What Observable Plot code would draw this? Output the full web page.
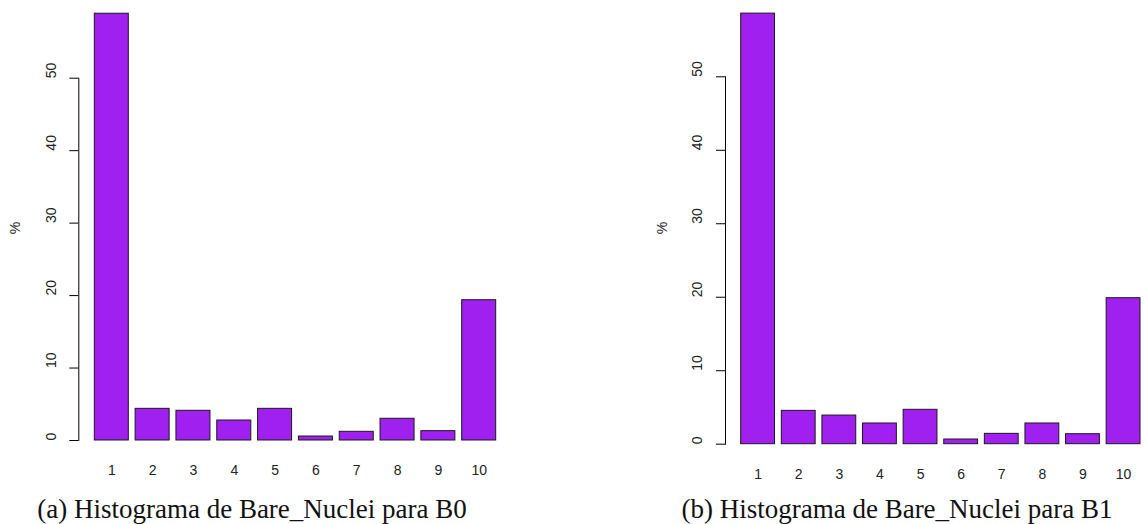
<!DOCTYPE html>
<html>
<head>
<meta charset="utf-8">
<script src="https://cdn.jsdelivr.net/npm/d3@7"></script>
<script src="https://cdn.jsdelivr.net/npm/@observablehq/plot@0.6"></script>
<style>
  html, body { margin: 0; padding: 0; background: #fff; }
  #wrap { position: relative; width: 1145px; height: 524px; overflow: hidden; }
  .panel { position: absolute; top: 0; }
  .ylab { position: absolute; font: 14px "Liberation Sans", Arial, sans-serif; color: #222;
          transform: translate(-50%, -50%) rotate(-90deg); white-space: nowrap; }
  .cap { position: absolute; font: 27px "Liberation Serif", "DejaVu Serif", serif; color: #111;
         transform: translateX(-50%); white-space: nowrap; line-height: 1; }
</style>
</head>
<body>
<div id="wrap"></div>
<script>
// Data
const categories = ["1","2","3","4","5","6","7","8","9","10"];
const pctB0 = [58.9, 4.37, 4.1, 2.76, 4.37, 0.55, 1.2, 3.0, 1.29, 19.36];
const pctB1 = [58.6, 4.54, 3.9, 2.82, 4.68, 0.64, 1.41, 2.82, 1.36, 19.87];
const yTicks = [0, 10, 20, 30, 40, 50];
const yLabel = "%";
const captions = ["(a) Histograma de Bare_Nuclei para B0", "(b) Histograma de Bare_Nuclei para B1"];

const wrap = document.getElementById("wrap");

function panel(values, cfg) {
  const data = categories.map((c, i) => ({cat: c, pct: values[i]}));
  const plot = Plot.plot({
    width: cfg.width,
    height: 524,
    marginLeft: cfg.ml,
    marginRight: cfg.mr,
    marginTop: cfg.mt,
    marginBottom: cfg.mb,
    style: {fontFamily: "'Liberation Sans', Arial, sans-serif", fontSize: "14px", color: "#222", background: "transparent"},
    x: {type: "band", domain: categories, paddingInner: 0.1667, paddingOuter: 0, round: false, insetLeft: cfg.inset, label: null},
    y: {domain: [0, 50], label: null},
    marks: [
      Plot.barY(data, {x: "cat", y: "pct", fill: "#A020F0", stroke: "#1a1a1a", strokeWidth: 1}),
      Plot.frame({anchor: "left", stroke: "#000"}),
      Plot.axisY(yTicks, {tickSize: 9, text: null, stroke: "#000"}),
      Plot.text(yTicks, {y: d => d, frameAnchor: "left", dx: -27.5, rotate: -90, text: d => String(d), fill: "#222", fontSize: 14}),
      Plot.axisX({tickSize: 0, tickPadding: 25, fontSize: 14, fill: "#222"})
    ]
  });
  plot.classList.add("panel");
  plot.style.left = cfg.left + "px";
  wrap.appendChild(plot);
}

panel(pctB0, {left: 0, width: 520, ml: 78.3, mr: 24.3, mt: 77.7, mb: 84, inset: 16});
panel(pctB1, {left: 620, width: 525, ml: 105, mr: 5, mt: 76.3, mb: 80.3, inset: 15.7});

function addText(cls, txt, x, y) {
  const d = document.createElement("div");
  d.className = cls;
  d.textContent = txt;
  d.style.left = x + "px";
  d.style.top = y + "px";
  wrap.appendChild(d);
}
addText("ylab", yLabel, 15, 228);
addText("ylab", yLabel, 662, 228);
addText("cap", captions[0], 252, 496);
addText("cap", captions[1], 897, 496);
</script>
</body>
</html>
